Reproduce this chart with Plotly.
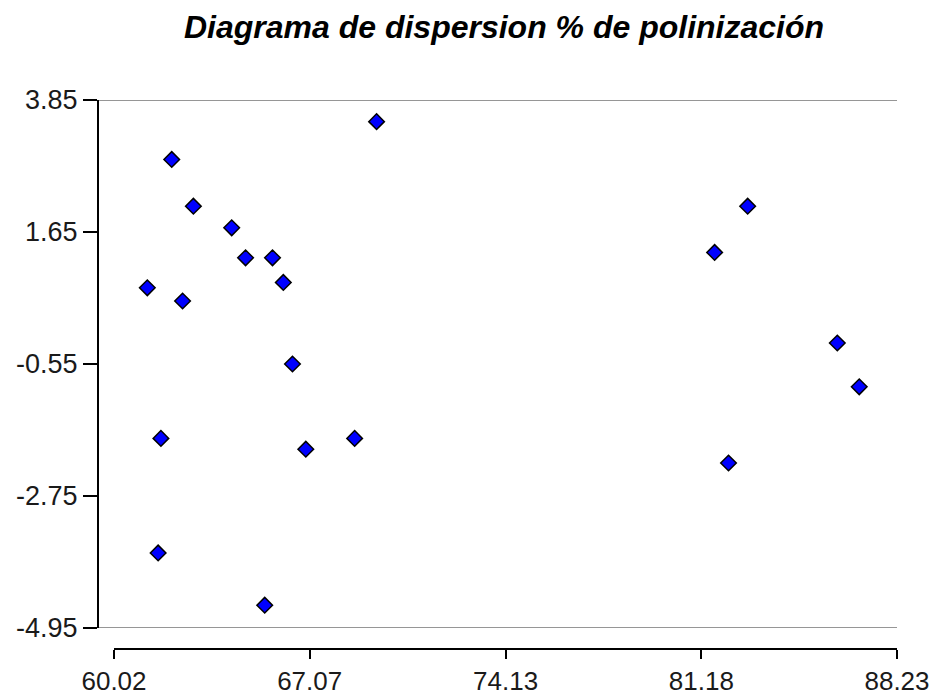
import plotly.graph_objects as go

# Data
x_vals = [69.48, 62.10, 62.88, 64.26, 64.76, 65.73, 66.12, 61.22, 62.49, 66.45,
          61.71, 66.93, 68.69, 61.61, 65.45, 82.85, 81.66, 86.08, 86.87, 82.16]
y_vals = [3.49, 2.86, 2.08, 1.72, 1.22, 1.22, 0.81, 0.72, 0.50, -0.55,
          -1.79, -1.97, -1.79, -3.70, -4.57, 2.08, 1.31, -0.20, -0.93, -2.20]

x_ticks = [60.02, 67.07, 74.13, 81.18, 88.23]
x_tick_labels = ["60.02", "67.07", "74.13", "81.18", "88.23"]
y_ticks = [3.85, 1.65, -0.55, -2.75, -4.95]
y_tick_labels = ["3.85", "1.65", "-0.55", "-2.75", "-4.95"]

title_text = "Diagrama de dispersion % de polinización"

W, H = 936, 698
L, R, T, B = 98, 39, 100, 49
plot_w = W - L - R
plot_h = H - T - B

fig = go.Figure()
fig.add_trace(go.Scatter(
    x=x_vals, y=y_vals, mode="markers",
    marker=dict(symbol="diamond", size=12, color="#0000ff",
                line=dict(color="black", width=1.5)),
    showlegend=False, hoverinfo="x+y",
))

x_font = dict(family="Liberation Sans, Arial, sans-serif", size=26, color="#1a1a1a")
y_font = dict(family="Liberation Sans, Arial, sans-serif", size=27, color="#1a1a1a")
eps = 0.0005

fig.update_layout(
    width=W, height=H,
    margin=dict(l=L, r=R, t=T, b=B, pad=0, autoexpand=False),
    paper_bgcolor="white", plot_bgcolor="white",
    title=dict(text="<b><i>" + title_text + "</i></b>",
               font=dict(family="Liberation Sans, Arial, sans-serif", size=32, color="black"),
               x=504 / W, xref="container", xanchor="center",
               y=1 - 27 / H, yref="container", yanchor="middle"),
    xaxis=dict(domain=[16 / plot_w, 1], range=[x_ticks[0] - eps, x_ticks[-1] + eps],
               anchor="free", position=0, automargin=False,
               showline=True, linecolor="black", linewidth=2,
               ticks="outside", ticklen=9, tickwidth=2, tickcolor="black",
               tickvals=x_ticks, ticktext=x_tick_labels, tickfont=x_font,
               showgrid=False, zeroline=False),
    yaxis=dict(domain=[21 / plot_h, 1], range=[y_ticks[-1] - eps, y_ticks[0] + eps],
               anchor="free", position=0, automargin=False,
               showline=True, linecolor="black", linewidth=2,
               ticks="outside", ticklen=14, tickwidth=2, tickcolor="black",
               tickvals=y_ticks, ticktext=y_tick_labels, tickfont=y_font,
               showgrid=False, zeroline=False),
    shapes=[
        dict(type="line", xref="paper", yref="y", x0=0, x1=1, y0=y_ticks[0], y1=y_ticks[0],
             line=dict(color="#969696", width=2), layer="below"),
        dict(type="line", xref="paper", yref="y", x0=0, x1=1, y0=y_ticks[-1], y1=y_ticks[-1],
             line=dict(color="#969696", width=2), layer="below"),
    ],
)

fig.write_html("out.html", config={"displayModeBar": False},
               post_script="document.body.style.margin='0';document.body.style.overflow='hidden';")
